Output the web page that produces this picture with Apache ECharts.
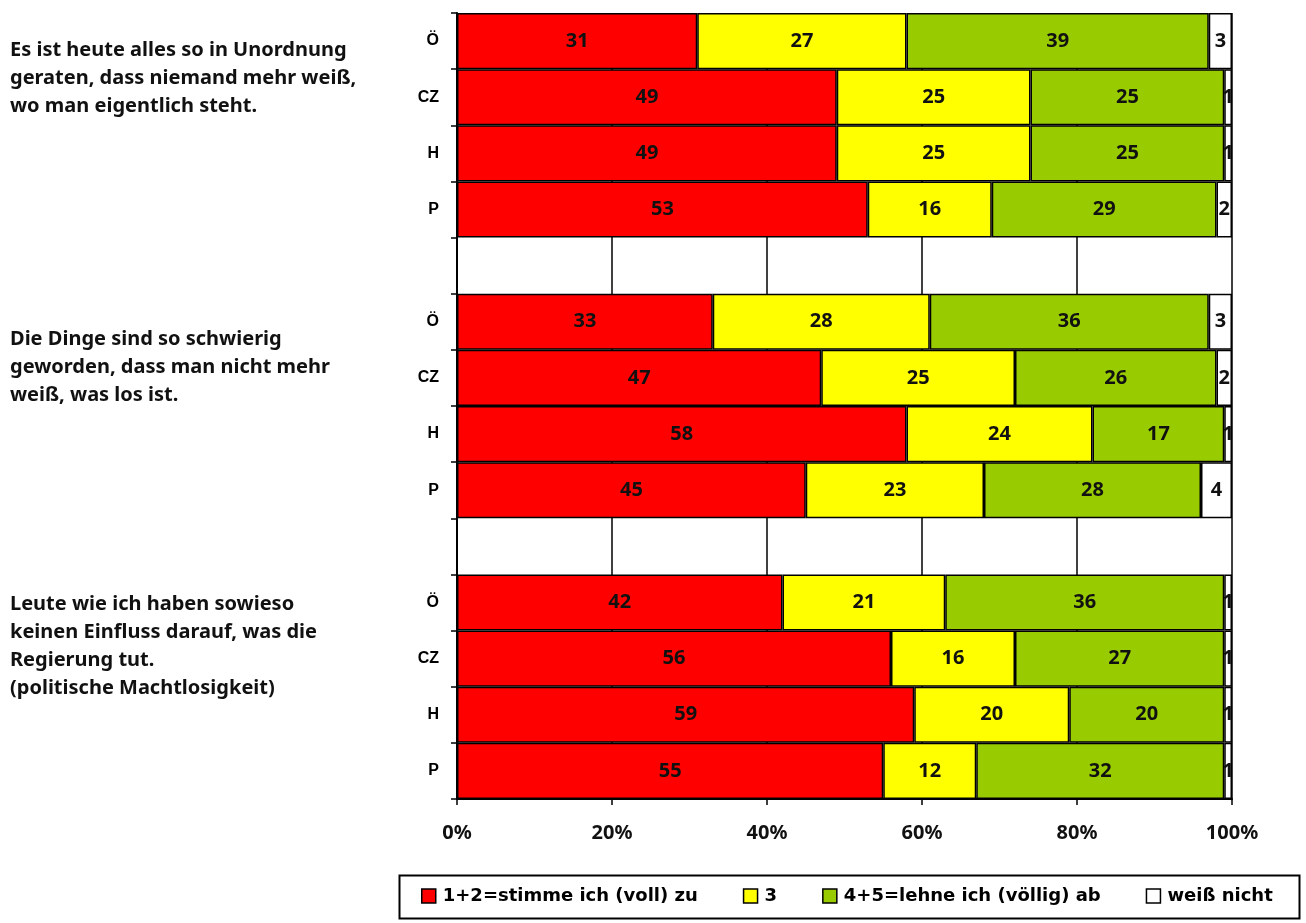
<!DOCTYPE html>
<html><head><meta charset="utf-8">
<script src="https://cdn.jsdelivr.net/npm/echarts@6/dist/echarts.min.js"></script>
<style>html,body{margin:0;padding:0;background:#fff}#c{width:1306px;height:923px}</style>
</head><body><div id="c"></div>
<script>
const categories = ['Ö','CZ','H','P','','Ö','CZ','H','P','','Ö','CZ','H','P'];
const agree    = [31,49,49,53,null,33,47,58,45,null,42,56,59,55];
const neutral  = [27,25,25,16,null,28,25,24,23,null,21,16,20,12];
const disagree = [39,25,25,29,null,36,26,17,28,null,36,27,20,32];
const dontKnow = [3,1,1,2,null,3,2,1,4,null,1,1,1,1];
const seriesNames = ['1+2=stimme ich (voll) zu','3','4+5=lehne ich (völlig) ab','weiß nicht'];
const questions = [
  'Es ist heute alles so in Unordnung\ngeraten, dass niemand mehr weiß,\nwo man eigentlich steht.',
  'Die Dinge sind so schwierig\ngeworden, dass man nicht mehr\nweiß, was los ist.',
  'Leute wie ich haben sowieso\nkeinen Einfluss darauf, was die\nRegierung tut.\n(politische Machtlosigkeit)'
];

const chart = echarts.init(document.getElementById('c'));
const colors = ['#FF0000','#FFFF00','#99CC00','#FFFFFF'];
const values = [agree, neutral, disagree, dontKnow];
const labelStyle = {show:true, position:'inside', color:'#111', fontFamily:'Noto Sans', fontWeight:'bold', fontSize:20,
  formatter: p => p.value};
const series = seriesNames.map((n,i)=>({
  name:n, type:'bar', stack:'all', data: values[i], barCategoryGap:'0%',
  itemStyle:{color:colors[i], borderColor:'#000', borderWidth:1.5},
  label: labelStyle, emphasis:{disabled:true}, animation:false
}));
const qTops = [36, 325, 590];
chart.setOption({
  animation:false,
  grid:{left:457, right:74, top:13, bottom:124, containLabel:false},
  legend:{
    data: seriesNames, left:421, top:887, width:885, padding:0, itemGap:45, itemWidth:14, itemHeight:14,
    icon:'rect',
    textStyle:{fontFamily:'DejaVu Sans', fontWeight:'bold', fontSize:18, color:'#000', padding:[0,0,0,2]},
    itemStyle:{borderColor:'#000', borderWidth:1.5}
  },
  xAxis:{type:'value', min:0, max:100, interval:20,
    axisLine:{show:true, lineStyle:{color:'#000', width:2}},
    axisTick:{show:true, length:6, lineStyle:{color:'#000', width:1.5}},
    splitLine:{show:true, lineStyle:{color:'#000', width:1.5}},
    axisLabel:{formatter:'{value}%', margin:24, fontFamily:'Noto Sans', fontWeight:'bold', fontSize:20, color:'#111'}
  },
  yAxis:{type:'category', data:categories, inverse:true,
    axisLine:{show:true, lineStyle:{color:'#000', width:2}},
    axisTick:{show:true, length:6, lineStyle:{color:'#000', width:1.5}},
    axisLabel:{margin:18, fontFamily:'Liberation Sans', fontWeight:'bold', fontSize:16, color:'#000'}
  },
  graphic:[
    {type:'rect', left:397, top:873, shape:{width:900, height:43}, style:{fill:'none', stroke:'#000', lineWidth:2}, silent:true},
    ...questions.map((q,i)=>({type:'text', left:10, top:qTops[i],
      style:{text:q, fontFamily:'Noto Sans', fontWeight:'bold', fontSize:20, lineHeight:28, fill:'#111'}}))
  ],
  series
});
</script></body></html>
